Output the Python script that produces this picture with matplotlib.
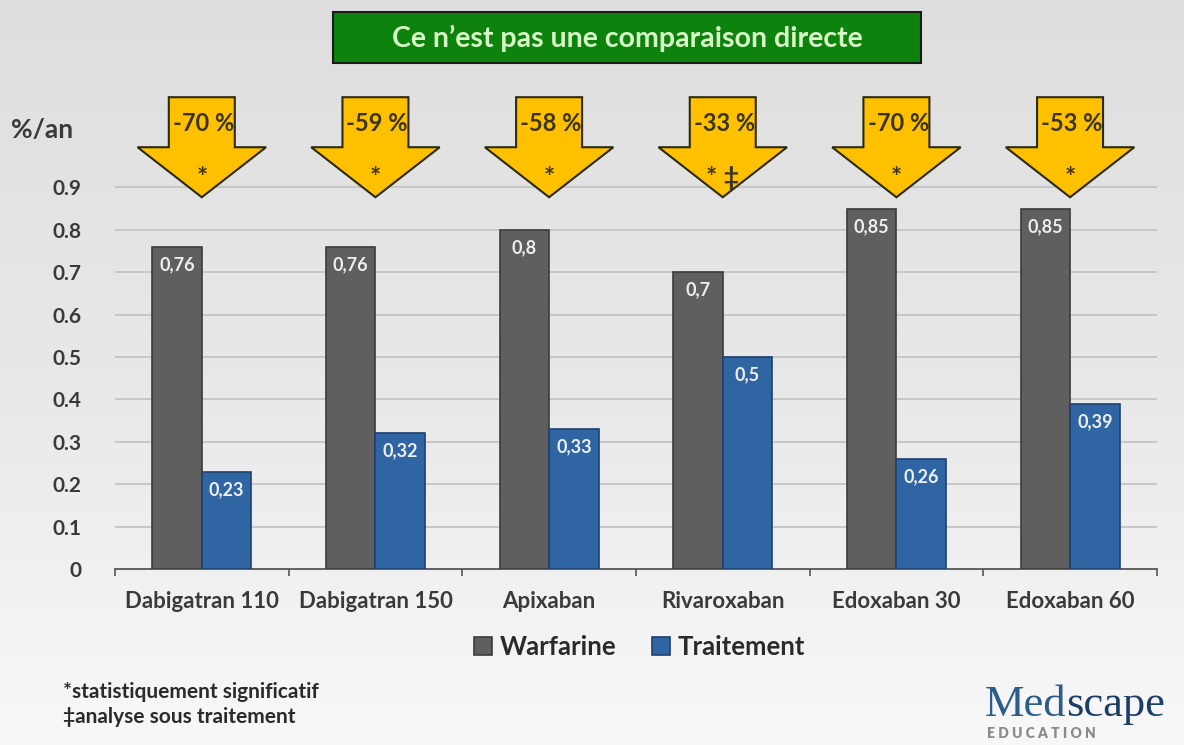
import numpy as np
import matplotlib
matplotlib.use("Agg")
import matplotlib.pyplot as plt
from matplotlib.patches import Polygon, Rectangle

plt.rcParams['font.family'] = ['Lato', 'DejaVu Sans']

# data
categories = ['Dabigatran 110', 'Dabigatran 150', 'Apixaban', 'Rivaroxaban', 'Edoxaban 30', 'Edoxaban 60']
warfarine = [0.76, 0.76, 0.80, 0.70, 0.85, 0.85]
traitement = [0.23, 0.32, 0.33, 0.50, 0.26, 0.39]
warf_labels = ['0,76', '0,76', '0,8', '0,7', '0,85', '0,85']
trait_labels = ['0,23', '0,32', '0,33', '0,5', '0,26', '0,39']
reductions = ['-70 %', '-59 %', '-58 %', '-33 %', '-70 %', '-53 %']
marks = ['*', '*', '*', '* \u2021', '*', '*']
yticks = [0, 0.1, 0.2, 0.3, 0.4, 0.5, 0.6, 0.7, 0.8, 0.9]

c_warf = '#5f5f5f'
c_trait = '#2f65a3'
c_text = '#3a3a3a'

fig = plt.figure(figsize=(11.84, 7.45), dpi=100)

# background gradient
bg = fig.add_axes([0, 0, 1, 1], zorder=-10)
grad = np.linspace(0, 1, 256).reshape(-1, 1)
bg.imshow(grad, aspect='auto', cmap=matplotlib.colors.LinearSegmentedColormap.from_list(
    'g', ['#dedede', '#e8e8e8', '#f8f8f8']), extent=[0, 1, 0, 1], origin='upper')
bg.axis('off')

ax = fig.add_axes([0.0971, 0.2362, 0.8800, 0.6430])
ax.patch.set_alpha(0)

x = np.arange(len(categories))
w = 0.285
b1 = ax.bar(x - w / 2, warfarine, w, color=c_warf, edgecolor='#3c3c3c', linewidth=1.2, label='Warfarine', zorder=3)
b2 = ax.bar(x + w / 2, traitement, w, color=c_trait, edgecolor='#1f4070', linewidth=1.2, label='Traitement', zorder=3)

for i in range(len(x)):
    ax.text(x[i] - w / 2, warfarine[i] - 0.022, warf_labels[i], ha='center', va='top',
            color='#eeeeee', fontsize=13, fontweight='bold', zorder=4)
    ax.text(x[i] + w / 2, traitement[i] - 0.022, trait_labels[i], ha='center', va='top',
            color='#eeeeee', fontsize=13, fontweight='bold', zorder=4)

# arrows above each group
for i in range(len(x)):
    cx = x[i]
    pts = [(cx - 0.19, 1.113), (cx + 0.19, 1.113), (cx + 0.19, 0.995), (cx + 0.37, 0.995),
           (cx, 0.877), (cx - 0.37, 0.995), (cx - 0.19, 0.995)]
    ax.add_patch(Polygon(pts, closed=True, facecolor='#ffc000', edgecolor='#2b2b10',
                         linewidth=1.5, clip_on=False, zorder=5))
    ax.text(cx + 0.01, 1.052, reductions[i], ha='center', va='center', fontsize=17,
            fontweight='bold', color='#3a3418', zorder=6)
    ax.text(cx, 0.922, marks[i], ha='center', va='center', fontsize=19,
            fontweight='bold', color='#3a3418', zorder=6)

ax.set_xlim(-0.5, len(categories) - 0.5)
ax.set_ylim(0, 1.13)
ax.set_yticks(yticks)
ax.set_yticklabels([f'{v:g}' for v in yticks])
for v in yticks[1:]:
    ax.axhline(v, color='#c4c4c4', linewidth=1.3, zorder=1)

ax.set_xticks(x)
ax.set_xticklabels(categories)
ax.set_xticks(np.arange(len(categories) + 1) - 0.5, minor=True)
ax.tick_params(axis='x', which='major', length=0, pad=16, labelsize=16, labelcolor=c_text)
ax.tick_params(axis='x', which='minor', length=5, width=1.2, color='#555555')
ax.tick_params(axis='y', length=0, pad=24, labelsize=15, labelcolor=c_text)
for lab in ax.get_xticklabels() + ax.get_yticklabels():
    lab.set_fontweight('bold')

for s in ['top', 'right', 'left']:
    ax.spines[s].set_visible(False)
ax.spines['bottom'].set_color('#555555')
ax.spines['bottom'].set_linewidth(1.3)

fig.text(0.009, 0.825, '%/an', fontsize=19, fontweight='bold', color=c_text, va='center')

leg = fig.legend(handles=[b1, b2], loc='center', bbox_to_anchor=(0.54, 0.131), ncol=2,
                 frameon=False, handlelength=0.7, handleheight=0.7,
                 handletextpad=0.3, columnspacing=1.4, prop={'weight': 'bold', 'size': 18.5})
for t in leg.get_texts():
    t.set_color('#2a2a2a')

# title box
fig.patches.append(Rectangle((333 / 1184, 1 - 63 / 745), 588 / 1184, 51 / 745,
                             transform=fig.transFigure, facecolor='#0d820d',
                             edgecolor='#1a1a1a', linewidth=1.5))
fig.text(627 / 1184, 1 - 38 / 745, 'Ce n\u2019est pas une comparaison directe', ha='center',
         va='center', fontsize=20.5, fontweight='bold', color='#d8f7c8')

# footnotes
fig.text(0.053, 1 - 692 / 745, '*statistiquement significatif', fontsize=15,
         fontweight='bold', color='#2a2a2a', va='center')
fig.text(0.053, 1 - 717 / 745, '\u2021analyse sous traitement', fontsize=15,
         fontweight='bold', color='#2a2a2a', va='center')

# logo
serif = ['Liberation Serif', 'DejaVu Serif']
t_med = fig.text(985 / 1184, 1 - 716 / 745, 'Med', fontsize=32, family=serif,
                 color='#2a5d8c', va='baseline')
ax.annotate('scape', xy=(1, 0), xycoords=t_med, fontsize=32, family=serif,
            color='#1d3f66', va='bottom', ha='left', annotation_clip=False)
fig.text(987 / 1184, 1 - 734 / 745, 'E D U C A T I O N', fontsize=10, fontweight='heavy',
         color='#8a8a8a', va='center')

fig.savefig('out.png', dpi=100)
